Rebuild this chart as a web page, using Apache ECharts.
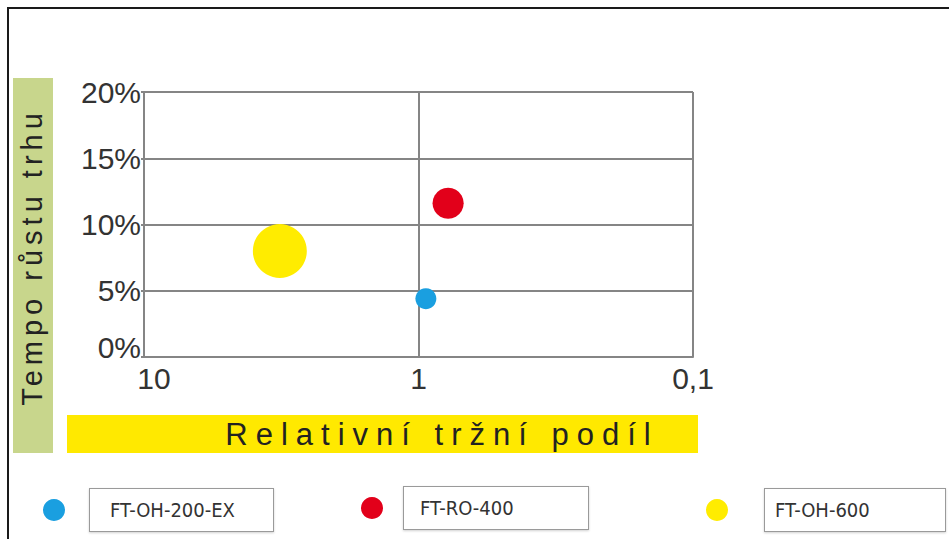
<!DOCTYPE html>
<html>
<head>
<meta charset="utf-8">
<script src="https://cdn.jsdelivr.net/npm/echarts@6/dist/echarts.min.js"></script>
<style>
html,body{margin:0;padding:0;background:#fff;}
#chart{width:949px;height:539px;}
</style>
</head>
<body>
<div id="chart"></div>
<script>
// ---- data ----
const products = ['FT-OH-200-EX', 'FT-RO-400', 'FT-OH-600'];
const relativeShare = [0.94, 0.78, 3.2];      // relative market share (log axis)
const marketGrowth = [4.4, 11.6, 8.0];        // market growth rate, %
const salesVolume = [1.0, 2.2, 6.6];          // bubble size measure
const colors = ['#1a9fe0', '#e2001a', '#ffec00'];
const yTicks = [0, 5, 10, 15, 20];
const xTicks = [10, 1, 0.1];
const xTitle = 'Relativní tržní podíl';
const yTitle = 'Tempo růstu trhu';

const labelColor = '#333333';
const gridColor = '#858585';
const FONT = 'Liberation Sans, Arial, sans-serif';

function legendFor(i, left, top, gap, textPad, boxW) {
  return {
    data: [products[i]],
    left: left, top: top, padding: 0,
    itemWidth: 22, itemHeight: 22, icon: 'circle',
    selectedMode: false,
    formatter: '{b|{name}}',
    textStyle: {
      padding: [0, 0, 0, gap],
      rich: {
        b: {
          fontFamily: 'Liberation Sans Narrow, DejaVu Sans Condensed, Liberation Sans, sans-serif',
          fontSize: 20, color: '#333',
          width: boxW - textPad, height: 22,
          padding: [10, 0, 10, textPad],
          borderColor: '#9a9a9a', borderWidth: 1,
          backgroundColor: '#fff',
          shadowColor: 'rgba(0,0,0,0.18)', shadowBlur: 2, shadowOffsetY: 1
        }
      }
    }
  };
}

const chart = echarts.init(document.getElementById('chart'), null, {renderer: 'svg'});
chart.setOption({
  animation: false,
  backgroundColor: '#fff',
  grid: {left: 144, top: 92, width: 549, height: 265, containLabel: false},
  xAxis: {
    type: 'log', logBase: 10, min: 0.1, max: 10, inverse: true,
    axisLine: {show: true, lineStyle: {color: gridColor, width: 2}},
    axisTick: {show: false},
    splitLine: {show: true, lineStyle: {color: gridColor, width: 2}},
    axisLabel: {
      margin: 6, fontSize: 30, color: labelColor, fontFamily: FONT,
      formatter: function (v) {
        const s = String(+Number(v).toPrecision(3)).replace('.', ',');
        return v > 5 ? '{r|' + s + '}' : s;
      },
      rich: {r: {fontSize: 30, color: labelColor, fontFamily: FONT, padding: [0, 0, 0, 20]}}
    }
  },
  yAxis: {
    type: 'value', min: 0, max: 20, interval: 5,
    axisLine: {show: true, lineStyle: {color: gridColor, width: 2}},
    axisTick: {show: true, length: 3, lineStyle: {color: gridColor, width: 2}},
    splitLine: {show: true, lineStyle: {color: gridColor, width: 2}},
    axisLabel: {
      margin: 3, fontSize: 30, color: labelColor, fontFamily: FONT,
      formatter: function (v) { return v === 0 ? '{z|0%}' : v + '%'; },
      rich: {z: {fontSize: 30, color: labelColor, fontFamily: FONT, padding: [0, 0, 20, 0]}}
    }
  },
  legend: [
    legendFor(0, 43, 488, 20, 20, 183),
    legendFor(1, 361, 486, 16, 16, 184),
    legendFor(2, 706, 488, 32, 10, 180)
  ],
  graphic: [
    {type: 'rect', silent: true, z: -1, shape: {x: 8, y: 8, width: 960, height: 560},
     style: {fill: 'none', stroke: '#1a1a1a', lineWidth: 2}},
    {type: 'rect', silent: true, shape: {x: 13, y: 78, width: 40, height: 375}, style: {fill: '#c8d68c'}},
    {type: 'text', id: 'ytitle', silent: true, x: 32, y: 257, rotation: Math.PI / 2,
     style: {text: yTitle, font: '29px Liberation Sans, Arial, sans-serif', fill: '#222',
             align: 'center', verticalAlign: 'middle', textAlign: 'center', textVerticalAlign: 'middle'}},
    {type: 'rect', silent: true, shape: {x: 67, y: 415, width: 631, height: 38}, style: {fill: '#ffe900'}},
    {type: 'text', id: 'xtitle', silent: true, x: 442, y: 434,
     style: {text: xTitle, font: '31px Liberation Sans, Arial, sans-serif', fill: '#222',
             align: 'center', verticalAlign: 'middle', textAlign: 'center', textVerticalAlign: 'middle'}}
  ],
  series: products.map(function (name, i) {
    return {
      name: name, type: 'scatter',
      data: [[relativeShare[i], marketGrowth[i], salesVolume[i]]],
      symbolSize: function (val) { return 21 * Math.sqrt(val[2]); },
      itemStyle: {color: colors[i], opacity: 1},
      emphasis: {disabled: true}
    };
  })
});

function spaceTitles() {
  const texts = document.querySelectorAll('#chart svg text');
  texts.forEach(function (t) {
    if (t.textContent === xTitle) t.setAttribute('letter-spacing', '8');
    if (t.textContent === yTitle) t.setAttribute('letter-spacing', '5');
  });
}
spaceTitles();
chart.on('finished', spaceTitles);
</script>
</body>
</html>
